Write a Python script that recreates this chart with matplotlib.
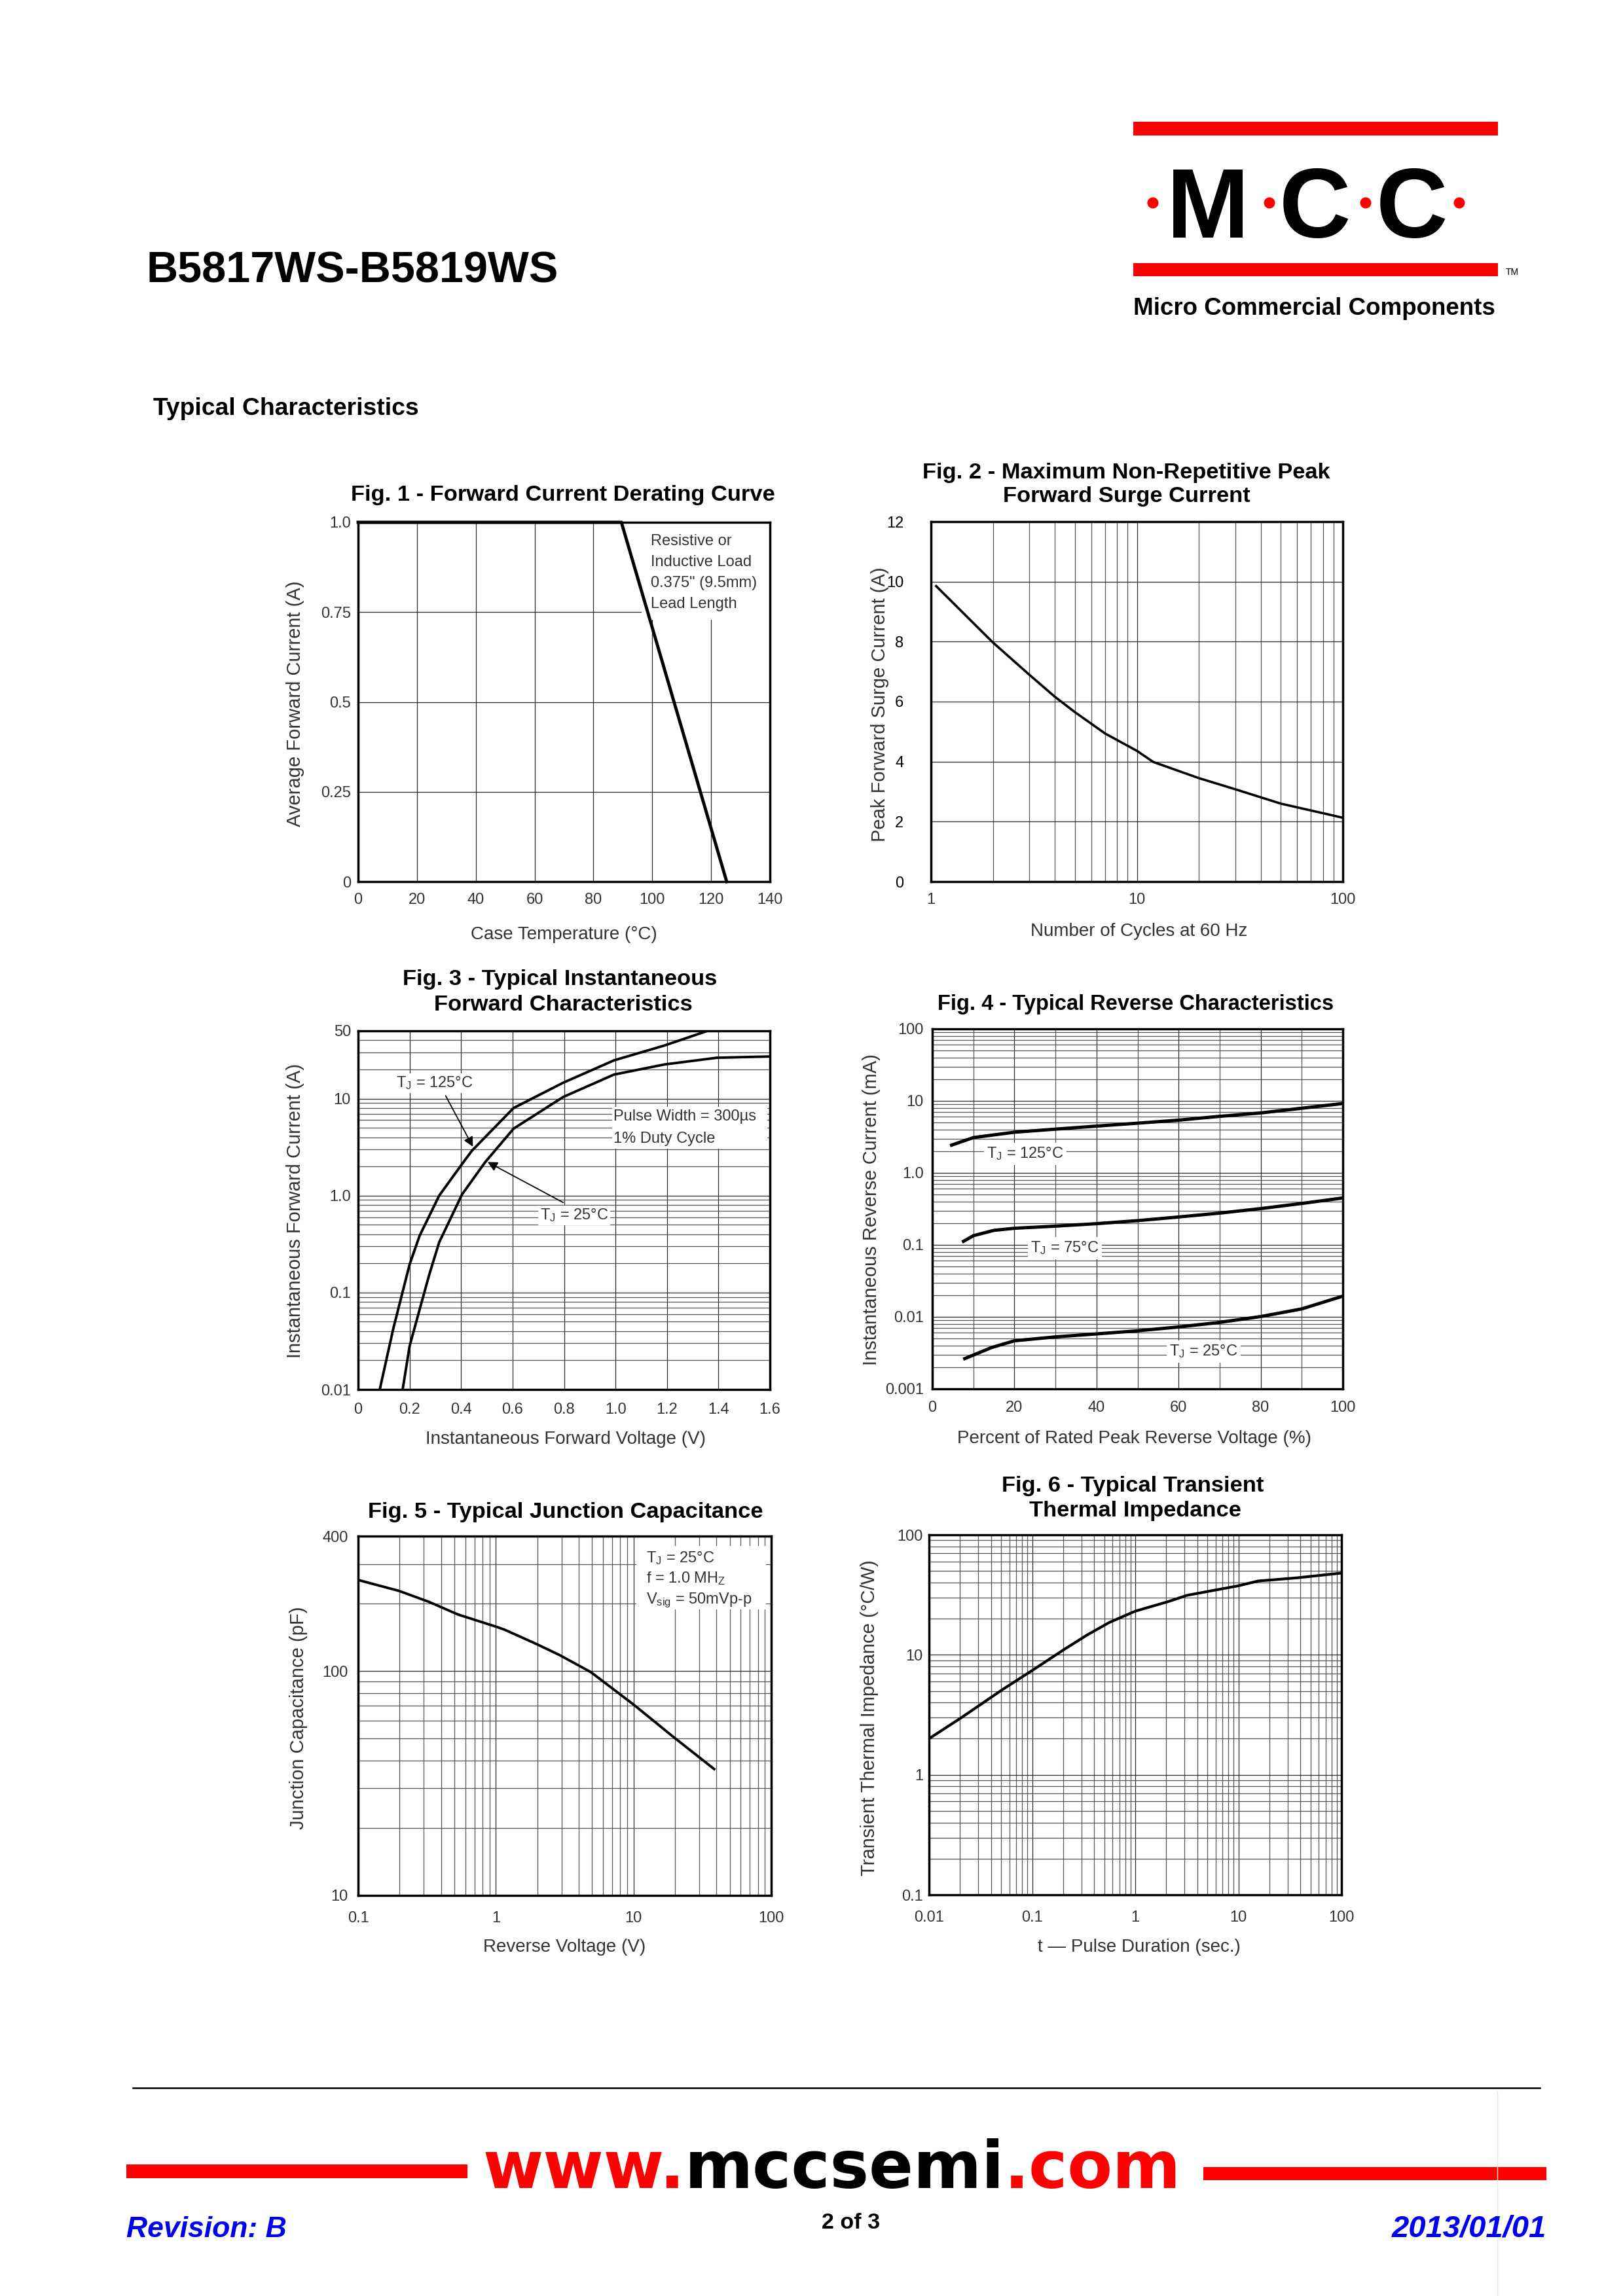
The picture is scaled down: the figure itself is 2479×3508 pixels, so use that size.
import matplotlib
matplotlib.use('Agg')
import matplotlib.pyplot as plt
from matplotlib.patches import Rectangle, Circle
from matplotlib.ticker import NullFormatter

# ---------------- data ----------------
fig1_temp = [0, 89.5, 125.3]
fig1_current = [1.0, 1.0, 0.0]

fig2_cycles = [1.06, 2, 3, 4, 5, 7, 10, 12, 20, 30, 50, 100]
fig2_current = [9.85, 7.97, 6.9, 6.16, 5.65, 4.94, 4.36, 3.99, 3.45, 3.08, 2.6, 2.13]

fig3_v125 = [0.084, 0.137, 0.2, 0.239, 0.315, 0.404, 0.442, 0.604, 0.797, 0.994, 1.19, 1.356]
fig3_i125 = [0.01, 0.0428, 0.195, 0.386, 1.0, 2.12, 2.9, 8.0, 14.6, 24.8, 35.3, 49.8]
fig3_v25 = [0.173, 0.2, 0.239, 0.277, 0.315, 0.404, 0.493, 0.604, 0.797, 0.994, 1.19, 1.394, 1.6]
fig3_i25 = [0.01, 0.028, 0.067, 0.155, 0.33, 1.03, 2.2, 4.9, 10.4, 17.7, 22.5, 26.4, 27.2]

fig4_v125 = [4.7, 10, 20, 30, 40, 50, 60, 70, 80, 90, 100]
fig4_i125 = [2.43, 3.09, 3.67, 4.05, 4.46, 4.9, 5.4, 6.1, 6.8, 7.9, 9.2]
fig4_v75 = [7.6, 10, 15, 20, 30, 40, 50, 60, 70, 80, 90, 100]
fig4_i75 = [0.112, 0.134, 0.159, 0.17, 0.182, 0.197, 0.217, 0.244, 0.276, 0.319, 0.376, 0.448]
fig4_v25 = [7.9, 14.5, 20, 30, 40, 50, 60, 70, 80, 90, 100]
fig4_i25 = [0.00263, 0.00376, 0.00465, 0.00527, 0.0058, 0.0064, 0.00724, 0.00838, 0.0101, 0.0129, 0.0194]

fig5_vr = [0.1, 0.198, 0.325, 0.53, 1.0, 1.16, 1.98, 2.9, 4.9, 10, 19.4, 38.5]
fig5_cj = [255, 228, 204, 179, 158, 153, 132, 118, 99, 71, 51, 36.6]

fig6_t = [0.01, 0.0203, 0.0519, 0.1, 0.205, 0.34, 0.56, 1.0, 2.07, 3.17, 10, 15.5, 37, 100]
fig6_z = [2.0, 2.97, 5.15, 7.4, 11.1, 14.6, 18.6, 23.1, 27.7, 31.3, 37.6, 41.2, 43.8, 48]

fig1_xticks = [0, 20, 40, 60, 80, 100, 120, 140]
fig1_yticks = [0, 0.25, 0.5, 0.75, 1.0]
fig1_ylabels = ['0', '0.25', '0.5', '0.75', '1.0']
fig2_xticks = [1, 10, 100]
fig2_xlabels = ['1', '10', '100']
fig2_yticks = [0, 2, 4, 6, 8, 10, 12]
fig3_xticks = [0, 0.2, 0.4, 0.6, 0.8, 1.0, 1.2, 1.4, 1.6]
fig3_xlabels = ['0', '0.2', '0.4', '0.6', '0.8', '1.0', '1.2', '1.4', '1.6']
fig3_yticks = [0.01, 0.1, 1, 10, 50]
fig3_ylabels = ['0.01', '0.1', '1.0', '10', '50']
fig4_xticks = [0, 20, 40, 60, 80, 100]
fig4_yticks = [0.001, 0.01, 0.1, 1, 10, 100]
fig4_ylabels = ['0.001', '0.01', '0.1', '1.0', '10', '100']
fig5_xticks = [0.1, 1, 10, 100]
fig5_xlabels = ['0.1', '1', '10', '100']
fig5_yticks = [10, 100, 400]
fig5_ylabels = ['10', '100', '400']
fig6_xticks = [0.01, 0.1, 1, 10, 100]
fig6_xlabels = ['0.01', '0.1', '1', '10', '100']
fig6_yticks = [0.1, 1, 10, 100]
fig6_ylabels = ['0.1', '1', '10', '100']

# ---------------- setup ----------------
W, H = 2479, 3508
plt.rcParams['font.family'] = ['Liberation Sans', 'DejaVu Sans']
plt.rcParams['mathtext.fontset'] = 'custom'
plt.rcParams['mathtext.rm'] = 'Liberation Sans'
plt.rcParams['mathtext.it'] = 'Liberation Sans:italic'
plt.rcParams['mathtext.bf'] = 'Liberation Sans:bold'

TXT = '#333333'
fig = plt.figure(figsize=(W / 100, H / 100), dpi=100)
bg = fig.add_axes([0, 0, 1, 1])
bg.set_xlim(0, W)
bg.set_ylim(H, 0)
bg.axis('off')


def make_ax(box, xpad, ypad):
    L, T, R, B = box
    ax = fig.add_axes([L / W, 1 - B / H, (R - L) / W, (B - T) / H])
    ax.tick_params(which='both', length=0)
    ax.tick_params(axis='x', pad=xpad, labelsize=17, labelcolor=TXT)
    ax.tick_params(axis='y', pad=ypad, labelsize=17, labelcolor=TXT)
    for s in ax.spines.values():
        s.set_linewidth(2.5)
        s.set_color('black')
        s.set_zorder(6)
    ax.set_axisbelow(True)
    return ax


def grids(ax):
    ax.grid(True, which='major', color='#2a2a2a', lw=0.9)
    ax.grid(True, which='minor', color='#555555', lw=0.9)
    ax.xaxis.set_minor_formatter(NullFormatter())
    ax.yaxis.set_minor_formatter(NullFormatter())


def frac(box, px, py):
    L, T, R, B = box
    return (px - L) / (R - L), (B - py) / (B - T)


def wbox(ax, box, x0, y0, x1, y1):
    fx0, fy1 = frac(box, x0, y0)
    fx1, fy0 = frac(box, x1, y1)
    ax.add_patch(Rectangle((fx0, fy0), fx1 - fx0, fy1 - fy0, transform=ax.transAxes,
                           facecolor='white', edgecolor='none', zorder=1.5))


def ptext(ax, box, px, py, s, **kw):
    fx, fy = frac(box, px, py)
    ax.text(fx, fy, s, transform=ax.transAxes, fontsize=17, color=TXT, zorder=4, **kw)


def title(x, y, s, size=24.8):
    bg.text(x, y, s, fontsize=size, fontweight='bold', ha='center', va='center', color='black')


def xlabel(x, y, s):
    bg.text(x, y, s, fontsize=20, ha='center', va='center', color=TXT)


def ylabel(x, y, s):
    bg.text(x, y, s, fontsize=21, ha='center', va='center', rotation=90, color=TXT)


TJ = '$\\mathregular{T_J}$'

# ---------------- Fig 1 ----------------
b1 = (547, 798, 1176, 1347)
ax1 = make_ax(b1, 12.5, 8)
ax1.set_xlim(0, 140)
ax1.set_ylim(0, 1.0)
ax1.set_xticks(fig1_xticks)
ax1.set_yticks(fig1_yticks)
ax1.set_yticklabels(fig1_ylabels)
grids(ax1)
wbox(ax1, b1, 980, 798, 1176, 947)
ax1.plot(fig1_temp, fig1_current, color='black', lw=3.5, zorder=3, clip_on=False)
for yy, s in zip([826.7, 859, 891, 922.6], ['Resistive or', 'Inductive Load', '0.375" (9.5mm)', 'Lead Length']):
    ptext(ax1, b1, 994, yy, s, ha='left', va='center')
title(860, 757, 'Fig. 1 - Forward Current Derating Curve')
xlabel(861, 1428, 'Case Temperature (°C)')
ylabel(451, 1075, 'Average Forward Current (A)')

# ---------------- Fig 2 ----------------
b2 = (1422, 797, 2051, 1347)
ax2 = make_ax(b2, 12, 30)
ax2.set_xscale('log')
ax2.set_xlim(1, 100)
ax2.set_ylim(0, 12)
ax2.set_xticks(fig2_xticks)
ax2.set_xticklabels(fig2_xlabels)
ax2.set_xticks([2, 3, 4, 5, 6, 7, 8, 9, 20, 30, 40, 50, 60, 70, 80, 90], minor=True)
ax2.set_yticks(fig2_yticks)
grids(ax2)
ax2.tick_params(axis='y', labelcolor='black')
ax2.plot(fig2_cycles, fig2_current, color='black', lw=2.6, zorder=3)
title(1720, 722, 'Fig. 2 - Maximum Non-Repetitive Peak')
title(1721, 758, 'Forward Surge Current')
xlabel(1740, 1423, 'Number of Cycles at 60 Hz')
ylabel(1344, 1076, 'Peak Forward Surge Current (A)')

# ---------------- Fig 3 ----------------
b3 = (547, 1575, 1176, 2123)
ax3 = make_ax(b3, 14.5, 8)
ax3.set_yscale('log')
ax3.set_xlim(0, 1.6)
ax3.set_ylim(0.01, 50)
ax3.set_xticks(fig3_xticks)
ax3.set_xticklabels(fig3_xlabels)
ax3.set_yticks(fig3_yticks)
ax3.set_yticklabels(fig3_ylabels)
minor3 = [m * d for d in (0.01, 0.1, 1) for m in range(2, 10)] + [20, 30, 40]
ax3.set_yticks(minor3, minor=True)
grids(ax3)
ax3.plot(fig3_v125, fig3_i125, color='black', lw=2.8, zorder=3)
ax3.plot(fig3_v25, fig3_i25, color='black', lw=2.8, zorder=3)
wbox(ax3, b3, 935, 1691, 1172, 1755)
ptext(ax3, b3, 605, 1655, TJ + ' = 125°C', ha='left', va='center',
      bbox=dict(facecolor='white', edgecolor='none', pad=2))
ptext(ax3, b3, 937, 1706, 'Pulse Width = 300µs', ha='left', va='center')
ptext(ax3, b3, 937, 1740, '1% Duty Cycle', ha='left', va='center')
ptext(ax3, b3, 825, 1857, TJ + ' = 25°C', ha='left', va='center',
      bbox=dict(facecolor='white', edgecolor='none', pad=2))
ax3.annotate('', xy=(0.446, 3.19), xytext=(0.340, 10.7),
             arrowprops=dict(arrowstyle='-|>', color='black', lw=1.3, mutation_scale=22,
                             shrinkA=0, shrinkB=0), zorder=4)
ax3.annotate('', xy=(0.503, 2.22), xytext=(0.797, 0.847),
             arrowprops=dict(arrowstyle='-|>', color='black', lw=1.3, mutation_scale=22,
                             shrinkA=0, shrinkB=0), zorder=4)
title(855, 1497, 'Fig. 3 - Typical Instantaneous')
title(860, 1535, 'Forward Characteristics')
xlabel(864, 2199, 'Instantaneous Forward Voltage (V)')
ylabel(451, 1850, 'Instantaneous Forward Current (A)')

# ---------------- Fig 4 ----------------
b4 = (1424, 1572, 2051, 2122)
ax4 = make_ax(b4, 13, 9.4)
ax4.set_yscale('log')
ax4.set_xlim(0, 100)
ax4.set_ylim(0.001, 100)
ax4.set_xticks(fig4_xticks)
ax4.set_xticks([10, 30, 50, 70, 90], minor=True)
ax4.set_yticks(fig4_yticks)
ax4.set_yticklabels(fig4_ylabels)
minor4 = [m * d for d in (0.001, 0.01, 0.1, 1, 10) for m in range(2, 10)]
ax4.set_yticks(minor4, minor=True)
grids(ax4)
ax4.plot(fig4_v125, fig4_i125, color='black', lw=3.6, zorder=3)
ax4.plot(fig4_v75, fig4_i75, color='black', lw=3.6, zorder=3)
ax4.plot(fig4_v25, fig4_i25, color='black', lw=3.6, zorder=3)
for px, py, s in [(1507, 1763, TJ + ' = 125°C'), (1574, 1907, TJ + ' = 75°C'), (1786, 2065, TJ + ' = 25°C')]:
    ptext(ax4, b4, px, py, s, ha='left', va='center',
          bbox=dict(facecolor='white', edgecolor='none', pad=3))
title(1735, 1535, 'Fig. 4 - Typical Reverse Characteristics', size=23.5)
xlabel(1732, 2198, 'Percent of Rated Peak Reverse Voltage (%)')
ylabel(1331, 1848, 'Instantaneous Reverse Current (mA)')

# ---------------- Fig 5 ----------------
b5 = (547, 2347, 1178, 2896)
ax5 = make_ax(b5, 17.5, 11)
ax5.set_xscale('log')
ax5.set_yscale('log')
ax5.set_xlim(0.1, 100)
ax5.set_ylim(10, 400)
ax5.set_xticks(fig5_xticks)
ax5.set_xticklabels(fig5_xlabels)
ax5.set_xticks([m * d for d in (0.1, 1, 10) for m in range(2, 10)], minor=True)
ax5.set_yticks(fig5_yticks)
ax5.set_yticklabels(fig5_ylabels)
ax5.set_yticks([20, 30, 40, 50, 60, 70, 80, 90, 200, 300], minor=True)
grids(ax5)
wbox(ax5, b5, 972, 2362, 1170, 2459)
ax5.plot(fig5_vr, fig5_cj, color='black', lw=2.8, zorder=3)
for py, s in [(2381, TJ + ' = 25°C'), (2412, 'f = 1.0 MH$\\mathregular{_Z}$'),
              (2445, 'V$\\mathregular{_{sig}}$ = 50mVp-p')]:
    ptext(ax5, b5, 987, py, s, ha='left', va='center')
title(864, 2310, 'Fig. 5 - Typical Junction Capacitance')
xlabel(862, 2975, 'Reverse Voltage (V)')
ylabel(456, 2625, 'Junction Capacitance (pF)')

# ---------------- Fig 6 ----------------
b6 = (1419, 2345, 2049, 2895)
ax6 = make_ax(b6, 17, 6.5)
ax6.set_xscale('log')
ax6.set_yscale('log')
ax6.set_xlim(0.01, 100)
ax6.set_ylim(0.1, 100)
ax6.set_xticks(fig6_xticks)
ax6.set_xticklabels(fig6_xlabels)
ax6.set_xticks([m * d for d in (0.01, 0.1, 1, 10) for m in range(2, 10)], minor=True)
ax6.set_yticks(fig6_yticks)
ax6.set_yticklabels(fig6_ylabels)
ax6.set_yticks([m * d for d in (0.1, 1, 10) for m in range(2, 10)], minor=True)
grids(ax6)
ax6.plot(fig6_t, fig6_z, color='black', lw=3.0, zorder=3)
title(1730, 2271, 'Fig. 6 - Typical Transient')
title(1734, 2309, 'Thermal Impedance')
xlabel(1740, 2975, 't — Pulse Duration (sec.)')
ylabel(1328, 2625, 'Transient Thermal Impedance (°C/W)')

# ---------------- header ----------------
RED = '#FF0000'
BLUE = '#0000F0'
bg.text(223, 432, 'B5817WS-B5819WS', fontsize=48, fontweight='bold', ha='left', va='baseline')
bg.text(234, 634, 'Typical Characteristics', fontsize=26.8, fontweight='bold', ha='left', va='baseline')
bg.add_patch(Rectangle((1731, 186), 557, 21, facecolor=RED, edgecolor='none'))
bg.add_patch(Rectangle((1731, 402), 557, 20, facecolor=RED, edgecolor='none'))
for cx, ch in [(1845, 'M'), (2008, 'C'), (2156, 'C')]:
    bg.text(cx, 363, ch, fontsize=109, fontweight='bold', ha='center', va='baseline')
for cx in [1761, 1939, 2086, 2229]:
    bg.add_patch(Circle((cx, 310), 8.5, facecolor=RED, edgecolor='none'))
bg.text(2300, 420, 'TM', fontsize=10, ha='left', va='baseline')
bg.text(1731, 481, 'Micro Commercial Components', fontsize=26.5, fontweight='bold',
        ha='left', va='baseline')

# ---------------- footer ----------------
bg.plot([203, 2352], [3190, 3190], color='black', lw=1.8)
bg.plot([2287, 2287], [3195, 3508], color='#e8e8e8', lw=1.0)
bg.add_patch(Rectangle((193, 3307), 521, 21, facecolor=RED, edgecolor='none'))
bg.add_patch(Rectangle((1838, 3311), 524, 20, facecolor=RED, edgecolor='none'))
t1 = bg.text(737, 3343, 'www.', fontsize=72, fontweight='bold', family='DejaVu Sans',
             color=RED, ha='left', va='baseline')
t2 = bg.annotate('mccsemi', xy=(1, 0), xycoords=t1, fontsize=72, fontweight='bold',
                 family='DejaVu Sans', color='black', ha='left', va='bottom')
t3 = bg.annotate('.com', xy=(1, 0), xycoords=t2, fontsize=72, fontweight='bold',
                 family='DejaVu Sans', color=RED, ha='left', va='bottom')
bg.text(193, 3418, 'Revision: B', fontsize=32, fontweight='bold', style='italic',
        color=BLUE, ha='left', va='baseline')
bg.text(1300, 3405, '2 of 3', fontsize=24.5, fontweight='bold', ha='center', va='baseline')
bg.text(2362, 3418, '2013/01/01', fontsize=34, fontweight='bold', style='italic',
        color=BLUE, ha='right', va='baseline')

fig.savefig('out.png', dpi=100)
